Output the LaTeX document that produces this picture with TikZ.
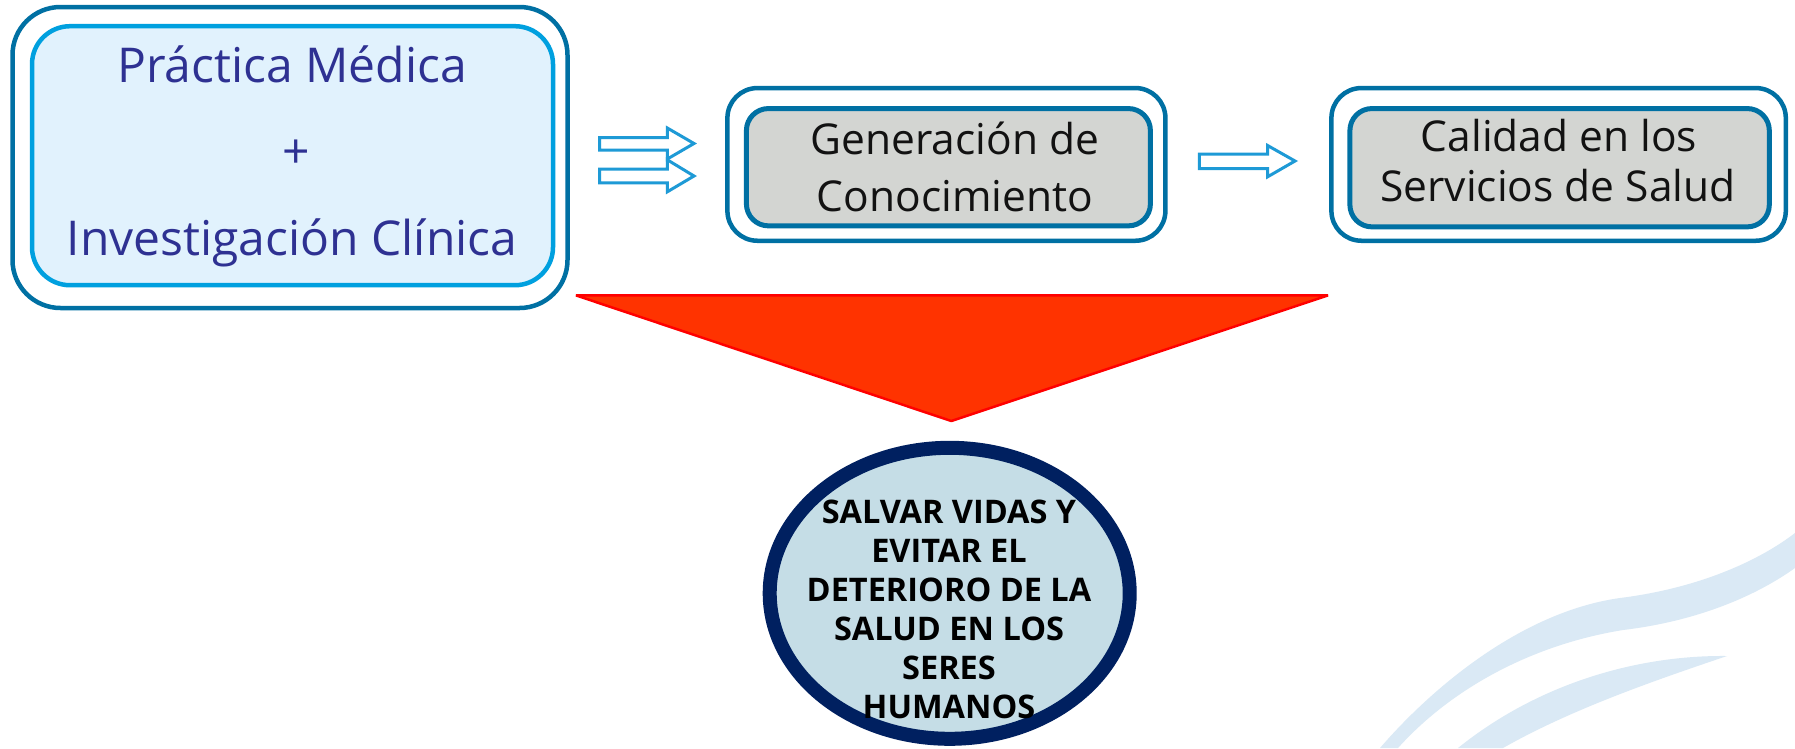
\documentclass[tikz,border=0pt]{standalone}
\usepackage{fontspec}
\setmainfont{Open Sans}
\usetikzlibrary{shapes.geometric}
\definecolor{outerblue}{HTML}{0070A3}
\definecolor{innerblue}{HTML}{00A0DF}
\definecolor{fillone}{HTML}{E1F2FD}
\definecolor{textblue}{HTML}{2E3192}
\definecolor{graybox}{HTML}{D3D5D2}
\definecolor{arrowblue}{HTML}{1E9AD6}
\definecolor{trifill}{HTML}{FF3300}
\definecolor{navy}{HTML}{002060}
\definecolor{ellfill}{HTML}{C5DDE6}
\definecolor{swooshc}{HTML}{DAE9F5}
\tikzset{
  outerbox/.style={draw=outerblue, line width=4.5pt, rounded corners=#1, inner sep=0pt, outer sep=0pt},
  grayinner/.style={draw=outerblue, fill=graybox, line width=5pt, rounded corners=22pt, inner sep=0pt, outer sep=0pt},
  blockarrow/.style={draw=arrowblue, line width=3pt, line join=miter},
  bigtext/.style={font=\fontsize{48}{58}\selectfont, text=textblue, inner sep=0pt, anchor=base},
  midtext/.style={font=\fontsize{42.5}{50}\selectfont, text=black!93, inner sep=0pt, anchor=base},
}
\begin{document}
\begin{tikzpicture}[x=1pt,y=-1pt]
\useasboundingbox[fill=white] (0,0) rectangle (1795,748);
% background swooshes
\fill[swooshc] (1380,748) .. controls (1430,690) and (1520,612) .. (1620,598)
  .. controls (1700,588) and (1760,560) .. (1795,533) -- (1795,568)
  .. controls (1750,600) and (1690,622) .. (1623,630)
  .. controls (1530,645) and (1450,690) .. (1398,748) -- cycle;
\fill[swooshc] (1727,656) .. controls (1640,655) and (1540,682) .. (1458,748)
  -- (1503,748) .. controls (1570,710) and (1650,682) .. (1727,656) -- cycle;
% box 1
\node[outerbox=48pt, minimum width=555pt, minimum height=301pt] (b1o) at (290,157.5) {};
\node[draw=innerblue, fill=fillone, line width=4.5pt, rounded corners=38pt, inner sep=0pt,
      minimum width=521pt, minimum height=259pt] (b1i) at (292.5,155.7) {};
\node[bigtext] (t1a) at (292,82.7) {Práctica Médica};
\node[bigtext] (t1b) at (296,168) {+};
\node[bigtext] (t1c) at (292,255) {Investigación Clínica};
% box 2
\node[outerbox=30pt, minimum width=438pt, minimum height=152.7pt] (b2o) at (946.4,164.4) {};
\node[grayinner, minimum width=404pt, minimum height=117.3pt] (b2i) at (948.4,167.2) {};
\node[midtext] (t2a) at (955,154.3) {Generación de};
\node[midtext] (t2b) at (955,211.7) {Conocimiento};
% box 3
\node[outerbox=30pt, minimum width=454.4pt, minimum height=152.7pt] (b3o) at (1558.6,164.4) {};
\node[grayinner, minimum width=419.4pt, minimum height=118.3pt] (b3i) at (1559.6,167.7) {};
\node[midtext] (t3a) at (1559,151.7) {Calidad en los};
\node[midtext] (t3b) at (1558,201.7) {Servicios de Salud};
% block arrows
\draw[blockarrow] (599.5,137.5) -- (667.3,137.5) -- (667.3,128) -- (694,143.5) -- (667.3,159)
  -- (667.3,150.2) -- (599.5,150.2) -- cycle;
\draw[blockarrow] (599.5,169.2) -- (667.3,169.2) -- (667.3,159.8) -- (694,176) -- (667.3,191.8)
  -- (667.3,182.8) -- (599.5,182.8) -- cycle;
\draw[blockarrow] (1199.4,154.2) -- (1267.6,154.2) -- (1267.6,145.5) -- (1295,161) -- (1267.6,176.8)
  -- (1267.6,168.5) -- (1199.4,168.5) -- cycle;
% red triangle
\draw[draw=red, fill=trifill, line width=2.5pt, line join=bevel] (576,295.4) -- (1328,295.4) -- (951.3,421) -- cycle;
% goal ellipse
\node[ellipse, draw=navy, fill=ellfill, line width=14pt, minimum width=360pt, minimum height=291pt, inner sep=0pt] (goal) at (949.7,593.3) {};
\node[font=\fontsize{32.5}{39}\selectfont\bfseries, align=center, inner sep=0pt] (goaltext) at (949,609)
  {SALVAR VIDAS Y\\EVITAR EL\\DETERIORO DE LA\\SALUD EN LOS\\SERES\\HUMANOS};
\end{tikzpicture}
\end{document}
